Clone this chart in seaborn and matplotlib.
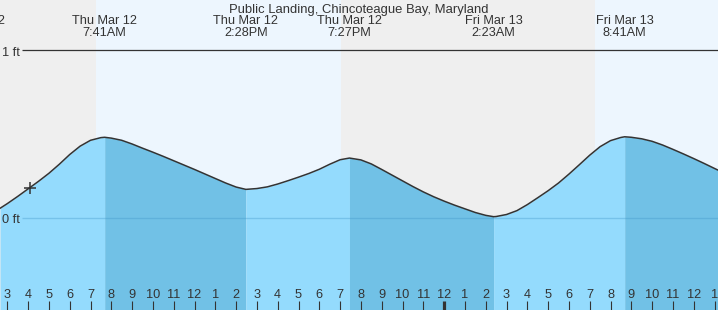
import matplotlib
matplotlib.use("Agg")
import numpy as np
import pandas as pd
import seaborn as sns
import matplotlib.pyplot as plt
from matplotlib.transforms import blended_transform_factory

# ---------------- data ----------------
title = "Public Landing, Chincoteague Bay, Maryland"

# hours since midnight Thu Mar 12, tide height in ft
hours = [2.65, 3.0, 3.5, 4.0, 4.5, 5.0, 5.5, 6.0, 6.5, 7.0, 7.5, 7.68,
         8.0, 8.5, 9.0, 9.5, 10.0, 10.5, 11.0, 11.5, 12.0, 12.5, 13.0, 13.5, 14.0, 14.47,
         15.0, 15.5, 16.0, 16.5, 17.0, 17.5, 18.0, 18.5, 19.0, 19.45,
         20.0, 20.5, 21.0, 21.5, 22.0, 22.5, 23.0, 23.5, 24.0, 24.5, 25.0, 25.5, 26.0, 26.38,
         26.5, 27.0, 27.5, 28.0, 28.5, 29.0, 29.5, 30.0, 30.5, 31.0, 31.5, 32.0, 32.5, 32.68,
         33.0, 33.5, 34.0, 34.5, 35.0, 35.5, 36.0, 36.5, 37.0, 37.17]
heights = [0.055, 0.083, 0.126, 0.171, 0.216, 0.264, 0.318, 0.376, 0.426, 0.461, 0.477, 0.479,
           0.474, 0.461, 0.439, 0.414, 0.390, 0.365, 0.339, 0.313, 0.287, 0.260, 0.233, 0.206, 0.182, 0.168,
           0.173, 0.183, 0.200, 0.220, 0.241, 0.263, 0.288, 0.318, 0.345, 0.355,
           0.344, 0.320, 0.287, 0.253, 0.219, 0.185, 0.153, 0.124, 0.098, 0.074, 0.052, 0.030, 0.013, 0.005,
           0.006, 0.018, 0.041, 0.077, 0.118, 0.160, 0.206, 0.259, 0.315, 0.372, 0.423, 0.459, 0.478, 0.482,
           0.479, 0.470, 0.455, 0.433, 0.407, 0.380, 0.352, 0.323, 0.293, 0.283]

# tide turning points (high/low) and their labels
event_hours = [1.33, 7.68, 14.47, 19.45, 26.38, 32.68]
event_dates = ["Thu Mar 12", "Thu Mar 12", "Thu Mar 12", "Thu Mar 12", "Fri Mar 13", "Fri Mar 13"]
event_times = ["1:20AM", "7:41AM", "2:28PM", "7:27PM", "2:23AM", "8:41AM"]

# daylight periods (sunrise, sunset) in hours
day_spans = [(7.26, 19.04), (31.25, 40.0)]

# current time marker
now_hour = [4.09]
now_height = [0.178]

# hour ticks
tick_hours = list(range(3, 38))
tick_labels = [str((h - 1) % 12 + 1) for h in tick_hours]
y_ticks = [0, 1]
y_labels = ["0 ft", "1 ft"]

# ---------------- style ----------------
sns.set_style("white")
plt.rcParams["font.family"] = ["Liberation Sans", "DejaVu Sans"]
TXT = "#333333"
FS = 9.2

fig = plt.figure(figsize=(7.18, 3.10), dpi=100)
ax = fig.add_axes([0, 0, 1, 1])
ax.set_axisbelow(False)
xmin, xmax = 2.649, 37.168
ymin, ymax = -0.552, 1.2985
ax.set_xlim(xmin, xmax)
ax.set_ylim(ymin, ymax)
ax.set_facecolor("#efefef")
for s in ax.spines.values():
    s.set_visible(False)

for a, b in day_spans:
    ax.axvspan(a, b, color="#edf6fe", lw=0, zorder=0)

t = np.array(hours)
v = np.array(heights)
turns = [t[0]] + event_hours[1:] + [t[-1]]
for i in range(len(turns) - 1):
    a, b = turns[i], turns[i + 1]
    m = (t >= a - 1e-9) & (t <= b + 1e-9)
    col = "#94dbfd" if i % 2 == 0 else "#71c1e6"
    ax.fill_between(t[m], ymin, v[m], color=col, lw=0, zorder=1)

x_line0 = 3.707
ax.hlines(0, x_line0, xmax, color="#3f95c8", alpha=0.35, lw=1.0, zorder=2)
ax.hlines(1, x_line0, xmax, color=TXT, lw=0.9, zorder=2)

df = pd.DataFrame({"hour": hours, "height": heights})
sns.lineplot(data=df, x="hour", y="height", color="#333333", lw=1.1,
             ax=ax, zorder=4, estimator=None, sort=False)
ax.plot(now_hour, now_height, marker="+", ms=9, mew=1.1, color="#333333",
        ls="none", zorder=5)

ax.set_xlabel("")
ax.set_ylabel("")
ax.set_xticks(tick_hours)
ax.set_xticklabels(tick_labels)
ax.tick_params(axis="x", direction="in", length=6.2, width=0.8, color=TXT,
               pad=-15, labelsize=FS, labelcolor=TXT, bottom=True, labelbottom=True)
for tk, h in zip(ax.xaxis.get_major_ticks(), tick_hours):
    if h == 24:
        tk.tick1line.set_markeredgewidth(2.3)
ax.set_yticks([])

for ypx, lab in zip([220, 52.5], y_labels):
    ax.text(2 / 718, 1 - ypx / 310, lab, transform=ax.transAxes, ha="left",
            va="center", fontsize=FS, color=TXT, zorder=6)

tx = blended_transform_factory(ax.transData, ax.transAxes)
for h, d, tm in zip(event_hours, event_dates, event_times):
    ax.text(h, 1 - 21.5 / 310, d, transform=tx, ha="center", va="center",
            fontsize=FS, color=TXT, zorder=6)
    ax.text(h, 1 - 33.5 / 310, tm, transform=tx, ha="center", va="center",
            fontsize=FS, color=TXT, zorder=6)

ax.text(0.5, 1 - 10 / 310, title, transform=ax.transAxes, ha="center",
        va="center", fontsize=9.4, color=TXT, zorder=6)

fig.savefig("out.png", dpi=100)
